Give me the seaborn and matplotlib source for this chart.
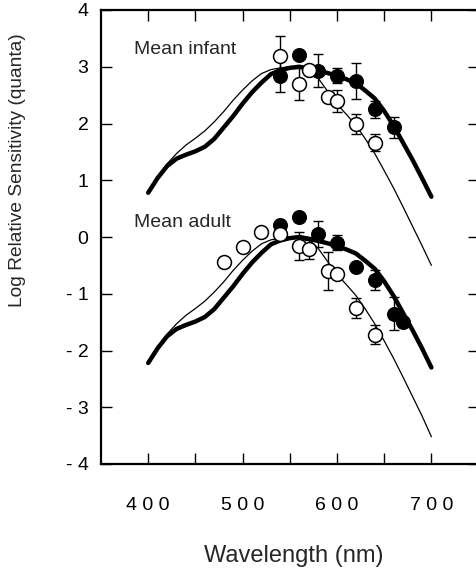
import numpy as np
import pandas as pd
import matplotlib
matplotlib.use("Agg")
import matplotlib.pyplot as plt
import seaborn as sns

# ---------------- data ----------------
curve_wl = [400, 410, 420, 430, 440, 450, 460, 470, 480, 490, 500, 510, 520, 530, 540,
            550, 560, 570, 580, 590, 600, 610, 620, 630, 640, 650, 660, 670, 680, 690, 700]

infant_thick = [0.78, 1.04, 1.25, 1.38, 1.45, 1.51, 1.59, 1.73, 1.93, 2.13, 2.35, 2.55, 2.72, 2.87, 2.94,
                2.98, 3.00, 2.97, 2.93, 2.89, 2.84, 2.78, 2.71, 2.58, 2.44, 2.22, 1.96, 1.66, 1.36, 1.04, 0.71]
infant_thin = [0.78, 1.05, 1.29, 1.47, 1.62, 1.74, 1.87, 2.03, 2.21, 2.41, 2.59, 2.75, 2.88, 2.95, 2.98,
               3.00, 2.99, 2.96, 2.80, 2.57, 2.34, 2.16, 1.97, 1.73, 1.47, 1.17, 0.86, 0.53, 0.19, -0.15, -0.50]
adult_thick = [-2.22, -1.96, -1.75, -1.62, -1.55, -1.49, -1.41, -1.27, -1.07, -0.87, -0.65, -0.45, -0.28, -0.13, -0.06,
               -0.02, 0.00, -0.03, -0.07, -0.11, -0.16, -0.22, -0.29, -0.42, -0.56, -0.78, -1.04, -1.34, -1.64, -1.96, -2.30]
adult_thin = [-2.22, -1.95, -1.71, -1.53, -1.38, -1.26, -1.13, -0.97, -0.79, -0.59, -0.41, -0.25, -0.12, -0.05, -0.02,
              0.00, -0.01, -0.04, -0.20, -0.43, -0.66, -0.84, -1.03, -1.27, -1.53, -1.83, -2.14, -2.47, -2.81, -3.15, -3.52]

inf_open_wl = [540, 560, 570, 590, 600, 620, 640]
inf_open_val = [3.19, 2.69, 2.95, 2.47, 2.40, 1.99, 1.66]
inf_open_err = [0.36, 0.28, 0.0, 0.0, 0.19, 0.17, 0.15]

inf_fill_wl = [540, 560, 580, 600, 620, 640, 660]
inf_fill_val = [2.84, 3.21, 2.93, 2.84, 2.75, 2.25, 1.93]
inf_fill_err = [0.28, 0.0, 0.29, 0.13, 0.32, 0.15, 0.19]

ad_open_wl = [480, 500, 520, 540, 560, 570, 590, 600, 620, 640]
ad_open_val = [-0.44, -0.18, 0.09, 0.05, -0.16, -0.22, -0.60, -0.65, -1.25, -1.72]
ad_open_err = [0.0, 0.0, 0.0, 0.0, 0.25, 0.17, 0.33, 0.0, 0.17, 0.17]

ad_fill_wl = [540, 560, 580, 600, 620, 640, 660, 670]
ad_fill_val = [0.21, 0.36, 0.05, -0.10, -0.52, -0.76, -1.35, -1.49]
ad_fill_err = [0.0, 0.0, 0.23, 0.13, 0.0, 0.18, 0.29, 0.0]

x_ticks = [400, 450, 500, 550, 600, 650, 700]
x_tick_labels = ["4 0 0", "", "5 0 0", "", "6 0 0", "", "7 0 0"]
y_ticks = [-4, -3, -2, -1, 0, 1, 2, 3, 4]
y_tick_labels = ["- 4", "- 3", "- 2", "- 1", "0", "1", "2", "3", "4"]

# ---------------- style ----------------
sns.set_style("ticks")
plt.rcParams["font.family"] = ["Liberation Sans", "DejaVu Sans"]

W, H = 476, 576
fig = plt.figure(figsize=(W / 100, H / 100), dpi=100)
ax = fig.add_axes([101 / W, 1 - 464 / H, 377.6 / W, 454 / H])

curves = pd.DataFrame({
    "wl": curve_wl * 4,
    "val": infant_thick + infant_thin + adult_thick + adult_thin,
    "curve": ["it"] * len(curve_wl) + ["in"] * len(curve_wl) + ["at"] * len(curve_wl) + ["an"] * len(curve_wl),
})
for key, lw in [("it", 3.2), ("at", 3.2), ("in", 0.9), ("an", 0.9)]:
    sub = curves[curves["curve"] == key]
    sns.lineplot(data=sub, x="wl", y="val", sort=False, estimator=None,
                 color="black", linewidth=lw, ax=ax, zorder=2)


def points(wl, val, err, filled):
    wl = np.array(wl, float)
    val = np.array(val, float)
    err = np.array(err, float)
    m = err > 0
    ax.errorbar(wl[m], val[m], yerr=err[m], fmt="none", ecolor="black",
                elinewidth=1.0, capsize=3.8, capthick=1.0, zorder=3)
    df = pd.DataFrame({"wl": wl, "val": val})
    if filled:
        sns.scatterplot(data=df, x="wl", y="val", marker="o", s=100,
                        color="black", edgecolor="black", linewidth=0.8, ax=ax, zorder=4)
    else:
        sns.scatterplot(data=df, x="wl", y="val", marker="o", s=100,
                        facecolor="white", edgecolor="black", linewidth=1.1, ax=ax, zorder=5)


points(inf_fill_wl, inf_fill_val, inf_fill_err, True)
points(inf_open_wl, inf_open_val, inf_open_err, False)
points(ad_fill_wl, ad_fill_val, ad_fill_err, True)
points(ad_open_wl, ad_open_val, ad_open_err, False)

ax.text(385, 3.30, "Mean infant", fontsize=14, ha="left", va="center")
ax.text(385, 0.26, "Mean adult", fontsize=14, ha="left", va="center")

ax.set_xlim(350, 750)
ax.set_ylim(-4, 4)
ax.set_xticks(x_ticks)
ax.set_xticklabels(x_tick_labels)
ax.set_yticks(y_ticks)
ax.set_yticklabels(y_tick_labels)
ax.tick_params(axis="both", direction="in", length=8, width=1.0, color="black",
               top=True, right=True, labelsize=14, labelcolor="black")
ax.tick_params(axis="x", pad=24)
ax.tick_params(axis="y", pad=9)
ax.set_xlabel("")
ax.set_ylabel("")
for s in ax.spines.values():
    s.set_linewidth(1.6)
    s.set_color("black")

fig.text(294 / W, 1 - 556 / H, "Wavelength (nm)", fontsize=17, ha="center", va="center")
fig.text(18 / W, 1 - 170 / H, "Log Relative Sensitivity (quanta)", fontsize=13.8,
         rotation=90, ha="center", va="center")

fig.savefig("out.png", dpi=100)
